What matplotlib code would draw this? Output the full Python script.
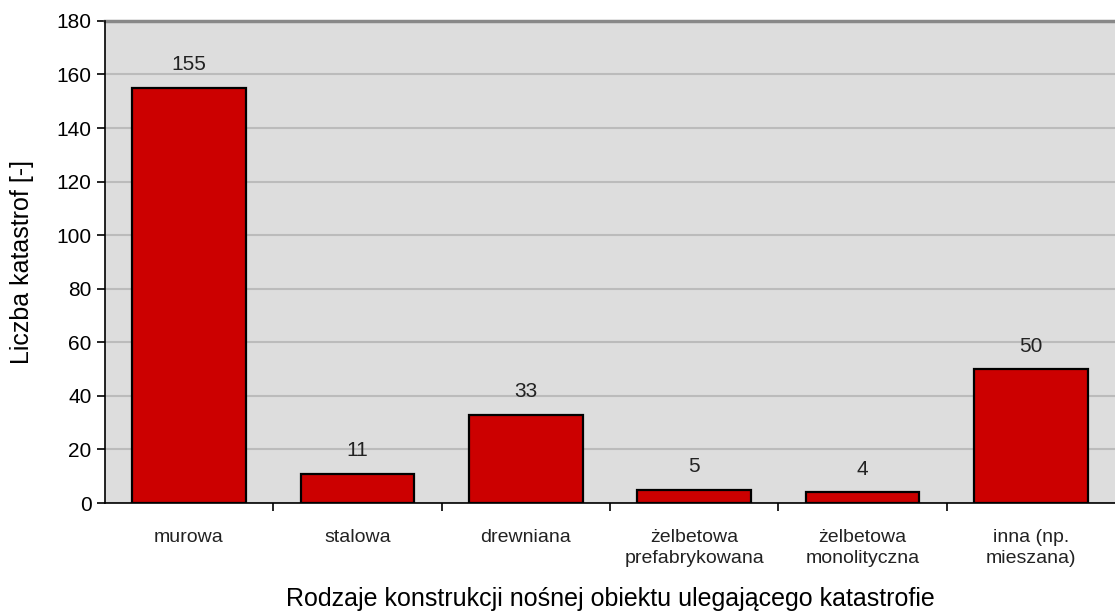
import matplotlib
matplotlib.use("Agg")
import matplotlib.pyplot as plt

categories = ["murowa", "stalowa", "drewniana", "żelbetowa\nprefabrykowana",
              "żelbetowa\nmonolityczna", "inna (np.\nmieszana)"]
values = [155, 11, 33, 5, 4, 50]

plt.rcParams["font.family"] = ["Liberation Sans", "DejaVu Sans"]

fig = plt.figure(figsize=(11.15, 6.15), dpi=100)
ax = fig.add_axes([0.094, 0.182, 0.906, 0.784])
ax.set_facecolor("#DDDDDD")

x = list(range(len(values)))
ax.bar(x, values, width=0.675, color="#CC0000", edgecolor="black", linewidth=1.6, zorder=3)
for i, v in enumerate(values):
    ax.text(i, v + 5, str(v), ha="center", va="bottom", fontsize=15, color="#222222")

ax.set_xlim(-0.5, len(values) - 0.5)
ax.set_ylim(0, 180)
ax.set_yticks(range(0, 181, 20))
ax.tick_params(axis="y", labelsize=15, length=6, width=1.2, direction="out")
ax.grid(axis="y", color="#BBBBBB", linewidth=1.5, zorder=0)

ax.set_xticks(x)
ax.set_xticklabels(categories, fontsize=14, color="#222222", linespacing=1.3)
ax.tick_params(axis="x", length=0, pad=19)
ax.set_xticks([i + 0.5 for i in x[:-1]], minor=True)
ax.tick_params(axis="x", which="minor", length=6, width=1.2, direction="out")

for s in ["top", "right"]:
    ax.spines[s].set_visible(False)
ax.spines["left"].set_linewidth(1.2)
ax.spines["bottom"].set_linewidth(1.2)
ax.axhline(180, color="#888888", linewidth=2.5, zorder=2, clip_on=False)

ax.set_ylabel("Liczba katastrof [-]", fontsize=18, labelpad=16)
ax.set_xlabel("Rodzaje konstrukcji nośnej obiektu ulegającego katastrofie", fontsize=18, labelpad=14)

fig.savefig("out.png", dpi=100)
